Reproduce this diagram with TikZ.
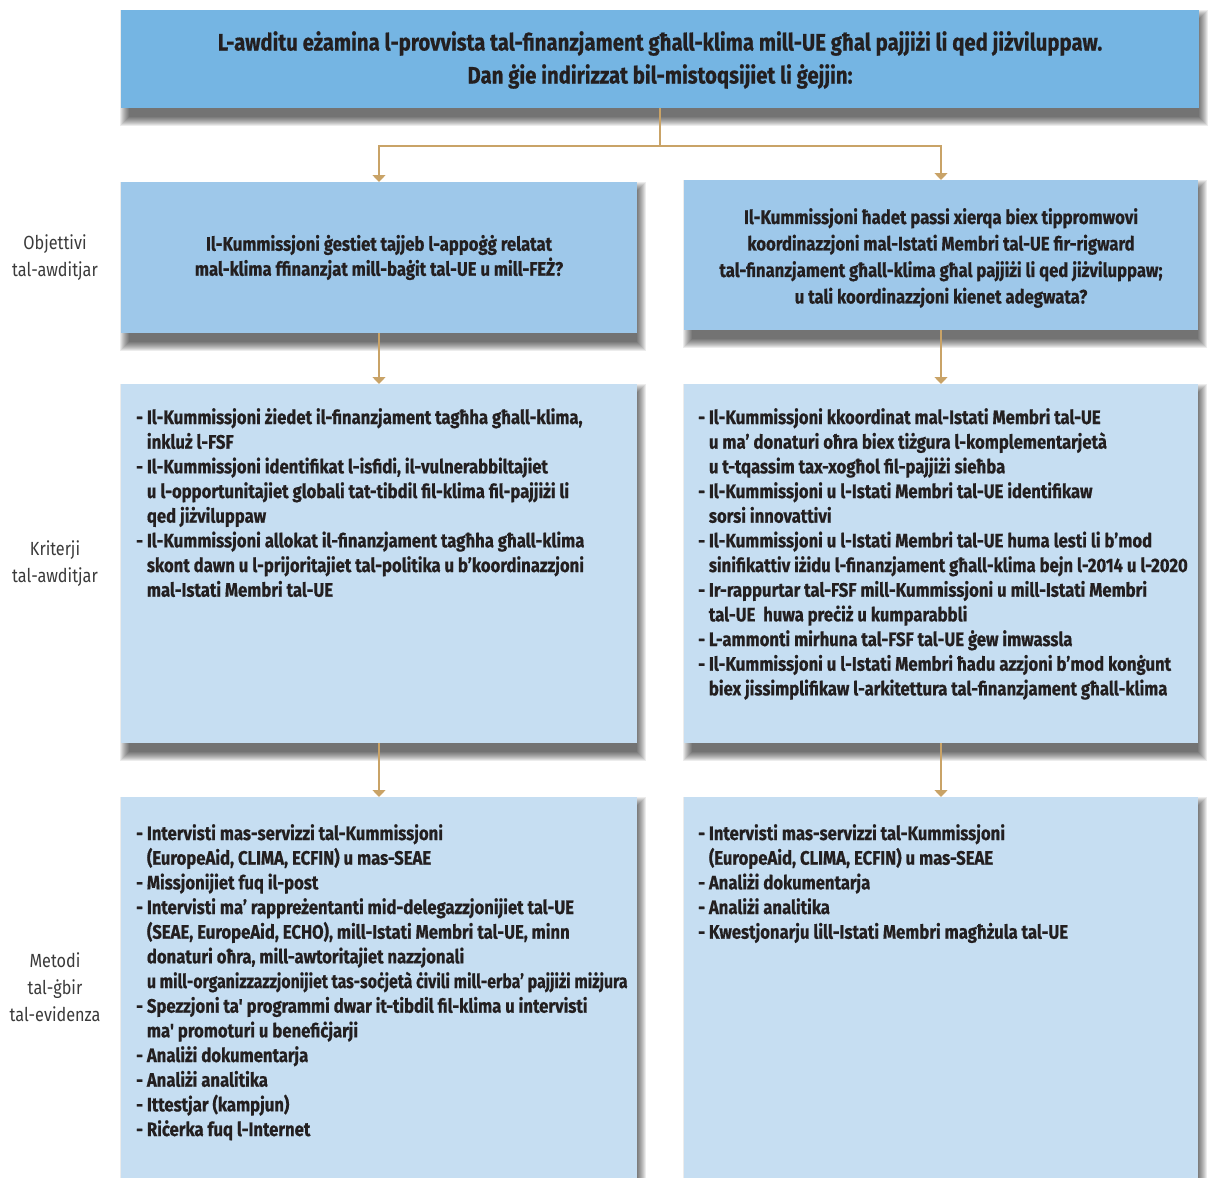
\documentclass[tikz,border=0pt]{standalone}
\usepackage{fontspec}
\setmainfont{Fira Sans}[FakeStretch=0.855, Ligatures=TeXOff, BoldFeatures={FakeBold=0.6}]
\usetikzlibrary{arrows.meta}
\definecolor{topblue}{HTML}{75B5E3}
\definecolor{objblue}{HTML}{9EC8EA}
\definecolor{lightblue}{HTML}{C6DEF2}
\definecolor{tanline}{HTML}{C9A367}
\definecolor{ink}{HTML}{231F20}
\definecolor{labelink}{HTML}{3A3A3A}
\newcommand\ind{\hphantom{-\ }}
\newcommand\fst{\rule{0pt}{15pt}}
\newcommand\softshadow[1]{%
  \foreach \k in {1,...,10}{%
    \fill[black, opacity=0.075] ([shift={(9-\k,10-\k)}]#1.north west) rectangle ([shift={(\k-1,8+\k)}]#1.south east);}}
\pgfdeclarelayer{bg}
\pgfdeclarelayer{shadowlayer}
\pgfsetlayers{bg,shadowlayer,main}
\begin{document}
\begin{tikzpicture}[x=1pt,y=-1pt,
  panel/.style={rectangle, inner sep=0pt, outer sep=0pt, anchor=north west},
  conn/.style={draw=tanline, line width=1.4pt},
  arr/.style={conn, -{Triangle[width=13pt,length=7pt]}},
  bodytext/.style={anchor=north west, inner sep=0pt, align=left, text=ink, font=\fontsize{19.5}{24.67}\selectfont\bfseries},
  objtext/.style={inner sep=0pt, align=center, text=ink, font=\fontsize{19.5}{25}\selectfont\bfseries},
  lbl/.style={align=center, inner sep=0pt, text=labelink, font=\fontsize{19}{27}\selectfont}
]
\useasboundingbox (0,0) rectangle (1208,1178);
\begin{pgfonlayer}{bg}
\fill[white] (0,0) rectangle (1208,1178);
\end{pgfonlayer}

% panels
\node[panel, fill=topblue, minimum width=1078pt, minimum height=98pt] (top) at (121,10) {};
\node[panel, fill=objblue, minimum width=516pt, minimum height=151pt] (objL) at (121,182) {};
\node[panel, fill=objblue, minimum width=514pt, minimum height=150pt] (objR) at (684,180) {};
\node[panel, fill=lightblue, minimum width=516pt, minimum height=359pt] (critL) at (121,384) {};
\node[panel, fill=lightblue, minimum width=514pt, minimum height=359pt] (critR) at (684,384) {};
\node[panel, fill=lightblue, minimum width=516pt, minimum height=381pt] (methL) at (121,797) {};
\node[panel, fill=lightblue, minimum width=514pt, minimum height=381pt] (methR) at (684,797) {};

\begin{pgfonlayer}{shadowlayer}
\softshadow{top}
\softshadow{objL}
\softshadow{objR}
\softshadow{critL}
\softshadow{critR}
\softshadow{methL}
\softshadow{methR}
\end{pgfonlayer}

% connectors
\coordinate (split) at (660,146);
\draw[conn] (top.south) -- (split);
\draw[arr] (split) -| (objL.north);
\draw[arr] (split) -| (objR.north);
\draw[arr] (objL.south) -- (critL.north);
\draw[arr] (objR.south) -- (critR.north);
\draw[arr] (critL.south) -- (methL.north);
\draw[arr] (critR.south) -- (methR.north);

% texts
\node[inner sep=0pt, align=center, text=ink, font=\fontsize{23.8}{33}\selectfont\bfseries] (toptxt) at ([yshift=-1pt]top.center)
  {L-awditu eżamina l-provvista tal-finanzjament għall-klima mill-UE għal pajjiżi li qed jiżviluppaw.\\
   Dan ġie indirizzat bil-mistoqsijiet li ġejjin:};

\node[objtext] (objLtxt) at (objL.center)
  {Il-Kummissjoni ġestiet tajjeb l-appoġġ relatat\\
   mal-klima ffinanzjat mill-baġit tal-UE u mill-FEŻ?};
\node[objtext, font=\fontsize{19.5}{26.5}\selectfont\bfseries] (objRtxt) at ([yshift=-3pt]objR.center)
  {Il-Kummissjoni ħadet passi xierqa biex tippromwovi\\
   koordinazzjoni mal-Istati Membri tal-UE fir-rigward\\
   tal-finanzjament għall-klima għal pajjiżi li qed jiżviluppaw;\\
   u tali koordinazzjoni kienet adegwata?};

\node[bodytext] (critLtxt) at (136,408)
  {\fst - Il-Kummissjoni żiedet il-finanzjament tagħha għall-klima,\\
   \ind inkluż l-FSF\\
   - Il-Kummissjoni identifikat l-isfidi, il-vulnerabbiltajiet\\
   \ind u l-opportunitajiet globali tat-tibdil fil-klima fil-pajjiżi li\\
   \ind qed jiżviluppaw\\
   - Il-Kummissjoni allokat il-finanzjament tagħha għall-klima\\
   \ind skont dawn u l-prijoritajiet tal-politika u b’koordinazzjoni\\
   \ind mal-Istati Membri tal-UE};

\node[bodytext] (critRtxt) at (698,408)
  {\fst - Il-Kummissjoni kkoordinat mal-Istati Membri tal-UE\\
   \ind u ma’ donaturi oħra biex tiżgura l-komplementarjetà\\
   \ind u t-tqassim tax-xogħol fil-pajjiżi sieħba\\
   - Il-Kummissjoni u l-Istati Membri tal-UE identifikaw\\
   \ind sorsi innovattivi\\
   - Il-Kummissjoni u l-Istati Membri tal-UE huma lesti li b’mod\\
   \ind sinifikattiv iżidu l-finanzjament għall-klima bejn l-2014 u l-2020\\
   - Ir-rappurtar tal-FSF mill-Kummissjoni u mill-Istati Membri\\
   \ind tal-UE\ \ huwa preċiż u kumparabbli\\
   - L-ammonti mirhuna tal-FSF tal-UE ġew imwassla\\
   - Il-Kummissjoni u l-Istati Membri ħadu azzjoni b’mod konġunt\\
   \ind biex jissimplifikaw l-arkitettura tal-finanzjament għall-klima};

\node[bodytext] (methLtxt) at (136,824)
  {\fst - Intervisti mas-servizzi tal-Kummissjoni\\
   \ind (EuropeAid, CLIMA, ECFIN) u mas-SEAE\\
   - Missjonijiet fuq il-post\\
   - Intervisti ma’ rappreżentanti mid-delegazzjonijiet tal-UE\\
   \ind (SEAE, EuropeAid, ECHO), mill-Istati Membri tal-UE, minn\\
   \ind donaturi oħra, mill-awtoritajiet nazzjonali\\
   \ind \scalebox{0.95}[1]{u mill-organizzazzjonijiet tas-soċjetà ċivili mill-erba’ pajjiżi miżjura}\\
   - Spezzjoni ta' programmi dwar it-tibdil fil-klima u intervisti\\
   \ind ma' promoturi u benefiċjarji\\
   - Analiżi dokumentarja\\
   - Analiżi analitika\\
   - Ittestjar (kampjun)\\
   - Riċerka fuq l-Internet};

\node[bodytext] (methRtxt) at (698,824)
  {\fst - Intervisti mas-servizzi tal-Kummissjoni\\
   \ind (EuropeAid, CLIMA, ECFIN) u mas-SEAE\\
   - Analiżi dokumentarja\\
   - Analiżi analitika\\
   - Kwestjonarju lill-Istati Membri magħżula tal-UE};

% row labels
\node[lbl] (lab1) at (55,257.5) {Objettivi\\tal-awditjar};
\node[lbl] (lab2) at (55,563.5) {Kriterji\\tal-awditjar};
\node[lbl] (lab3) at (55,987.5) {Metodi\\tal-ġbir\\tal-evidenza};
\end{tikzpicture}
\end{document}
